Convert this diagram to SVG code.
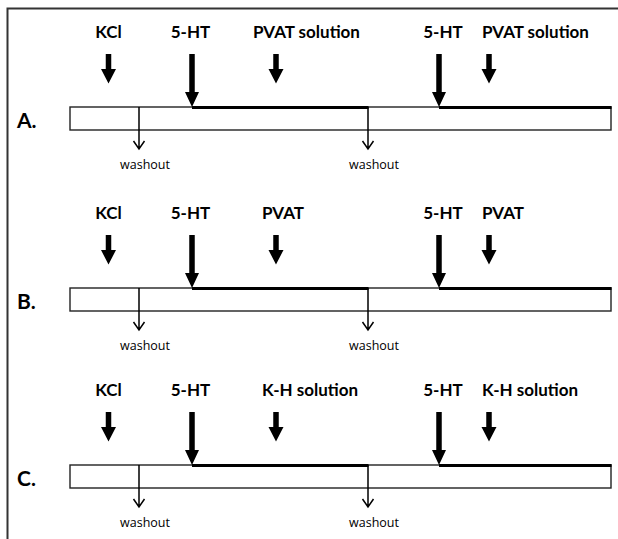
<svg xmlns="http://www.w3.org/2000/svg" xmlns:xlink="http://www.w3.org/1999/xlink" width="618" height="539" viewBox="0 0 618 539">
<style>
.lab{font-family:Lato,"Open Sans","Liberation Sans",sans-serif;font-weight:700;font-size:17px;fill:#000}
.pl{font-family:Lato,"Open Sans","Liberation Sans",sans-serif;font-weight:700;font-size:21px;fill:#000}
.wo{font-family:"Open Sans","Liberation Sans",sans-serif;font-size:12.5px;fill:#000}
.bar{fill:#fff;stroke:#222;stroke-width:1.4}
.thick{stroke:#000;stroke-width:3;fill:none}
.wash{stroke:#000;stroke-width:1.5;fill:none}
</style>
<defs>
<polygon id="sa" points="-2.75,0 2.75,0 2.75,15 7.5,15 0,29.5 -7.5,15 -2.75,15" fill="#000"/>
<polygon id="ba" points="-2.75,0 2.75,0 2.75,38 7,38 0,53 -7,38 -2.75,38" fill="#000"/>
<path id="wa" d="M0,0 V42 M-5.5,34 L0,42 L5.5,34" class="wash"/>
</defs>
<path d="M7.5,539 V8.5 H618" fill="none" stroke="#333" stroke-width="2"/>

<!-- Panel A -->
<g id="panelA">
  <text id="A-label" class="pl" x="17" y="128">A.</text>
  <rect id="A-bar" class="bar" x="70" y="107" width="541" height="23"/>
  <g id="A-kcl"><text class="lab" x="108.5" y="38" text-anchor="middle">KCl</text><use xlink:href="#sa" x="108.5" y="54"/></g>
  <g id="A-5ht1"><text class="lab" x="190.5" y="38" text-anchor="middle">5-HT</text><use xlink:href="#ba" x="192" y="54"/></g>
  <g id="A-pvat1"><text class="lab" x="253" y="38">PVAT solution</text><use xlink:href="#sa" x="276" y="54"/></g>
  <g id="A-5ht2"><text class="lab" x="443" y="38" text-anchor="middle">5-HT</text><use xlink:href="#ba" x="439" y="54"/></g>
  <g id="A-pvat2"><text class="lab" x="482" y="38">PVAT solution</text><use xlink:href="#sa" x="489" y="54"/></g>
  <g id="A-wash1"><use xlink:href="#wa" x="139" y="107"/><text class="wo" x="145" y="169" text-anchor="middle">washout</text></g>
  <g id="A-wash2"><use xlink:href="#wa" x="368" y="107"/><text class="wo" x="374" y="169" text-anchor="middle">washout</text></g>
</g>

<!-- Panel B -->
<g id="panelB">
  <text id="B-label" class="pl" x="17" y="309">B.</text>
  <rect id="B-bar" class="bar" x="70" y="288" width="541" height="23"/>
  <g id="B-kcl"><text class="lab" x="108.5" y="219" text-anchor="middle">KCl</text><use xlink:href="#sa" x="108.5" y="235"/></g>
  <g id="B-5ht1"><text class="lab" x="190.5" y="219" text-anchor="middle">5-HT</text><use xlink:href="#ba" x="192" y="235"/></g>
  <g id="B-pvat1"><text class="lab" x="262" y="219">PVAT</text><use xlink:href="#sa" x="276" y="235"/></g>
  <g id="B-5ht2"><text class="lab" x="443" y="219" text-anchor="middle">5-HT</text><use xlink:href="#ba" x="439" y="235"/></g>
  <g id="B-pvat2"><text class="lab" x="482" y="219">PVAT</text><use xlink:href="#sa" x="489" y="235"/></g>
  <g id="B-wash1"><use xlink:href="#wa" x="139" y="288"/><text class="wo" x="145" y="350" text-anchor="middle">washout</text></g>
  <g id="B-wash2"><use xlink:href="#wa" x="368" y="288"/><text class="wo" x="374" y="350" text-anchor="middle">washout</text></g>
</g>

<!-- Panel C -->
<g id="panelC">
  <text id="C-label" class="pl" x="17" y="486">C.</text>
  <rect id="C-bar" class="bar" x="70" y="465" width="541" height="23"/>
  <g id="C-kcl"><text class="lab" x="108.5" y="396" text-anchor="middle">KCl</text><use xlink:href="#sa" x="108.5" y="412"/></g>
  <g id="C-5ht1"><text class="lab" x="190.5" y="396" text-anchor="middle">5-HT</text><use xlink:href="#ba" x="192" y="412"/></g>
  <g id="C-kh1"><text class="lab" x="262" y="396">K-H solution</text><use xlink:href="#sa" x="276" y="412"/></g>
  <g id="C-5ht2"><text class="lab" x="443" y="396" text-anchor="middle">5-HT</text><use xlink:href="#ba" x="439" y="412"/></g>
  <g id="C-kh2"><text class="lab" x="482" y="396">K-H solution</text><use xlink:href="#sa" x="489" y="412"/></g>
  <g id="C-wash1"><use xlink:href="#wa" x="139" y="465"/><text class="wo" x="145" y="527" text-anchor="middle">washout</text></g>
  <g id="C-wash2"><use xlink:href="#wa" x="368" y="465"/><text class="wo" x="374" y="527" text-anchor="middle">washout</text></g>
</g>

<g id="connectors">
  <path class="thick" d="M192,107.5 H368.5 M439,107.5 H611.5"/>
  <path class="thick" d="M192,288.5 H368.5 M439,288.5 H611.5"/>
  <path class="thick" d="M192,465.5 H368.5 M439,465.5 H611.5"/>
</g>
</svg>
